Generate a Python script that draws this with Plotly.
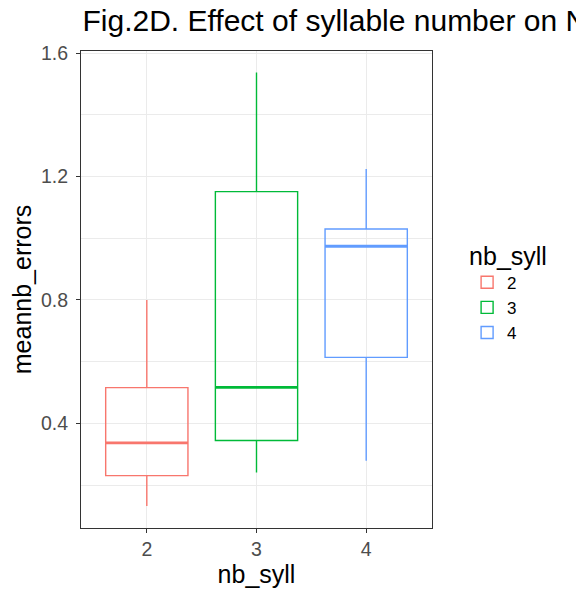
import plotly.graph_objects as go

# Data
nb_syll = [2, 3, 4]
labels = ["2", "3", "4"]
lower = [0.133, 0.241, 0.279]
q1 = [0.231, 0.345, 0.614]
median = [0.337, 0.517, 0.974]
q3 = [0.516, 1.151, 1.030]
upper = [0.800, 1.537, 1.224]
colors = ["#F8766D", "#00BA38", "#619CFF"]

y_major = [0.4, 0.8, 1.2, 1.6]
y_minor = [0.2, 0.6, 1.0, 1.4]

BOX_W = 0.75
FONT = "Liberation Sans, Arial, Helvetica, sans-serif"

fig = go.Figure()
for i in range(len(nb_syll)):
    fig.add_trace(go.Box(
        x=[nb_syll[i]],
        q1=[q1[i]], median=[median[i]], q3=[q3[i]],
        lowerfence=[lower[i]], upperfence=[upper[i]],
        name=labels[i],
        width=BOX_W,
        whiskerwidth=0,
        line=dict(color=colors[i], width=1.4),
        fillcolor="rgba(255,255,255,0)",
        boxpoints=False,
        hoverinfo="skip",
        legendgroup=labels[i],
    ))
for i in range(len(nb_syll)):
    fig.add_trace(go.Scatter(
        x=[nb_syll[i] - BOX_W / 2, nb_syll[i] + BOX_W / 2],
        y=[median[i], median[i]],
        mode="lines",
        line=dict(color=colors[i], width=2.8),
        showlegend=False,
        hoverinfo="skip",
        legendgroup=labels[i],
    ))

fig.update_layout(
    width=584, height=591,
    margin=dict(l=73, r=160, t=43, b=71, autoexpand=False),
    paper_bgcolor="white", plot_bgcolor="white",
    font=dict(family=FONT, color="black"),
    title=dict(
        text="Fig.2D. Effect of syllable number on N",
        font=dict(size=30, color="black", family=FONT),
        x=74.5 / 584, xref="container", xanchor="left",
        y=1 - 12 / 591, yref="container", yanchor="middle",
    ),
    showlegend=True,
    legend=dict(
        title=dict(text="nb_syll", font=dict(size=25, color="black")),
        font=dict(size=17, color="black"),
        x=1.1, xanchor="left", y=0.620, yanchor="top",
        tracegroupgap=0,
        bgcolor="rgba(0,0,0,0)",
    ),
    xaxis=dict(
        range=[1.4, 4.6],
        tickmode="array", tickvals=nb_syll, ticktext=labels,
        showgrid=True, gridcolor="#EBEBEB", gridwidth=1.1,
        zeroline=False,
        showline=True, mirror=True, linecolor="#333333", linewidth=1.1,
        ticks="outside", ticklen=4, tickwidth=1.1, tickcolor="#333333",
        tickfont=dict(size=19.5, color="#4D4D4D"),
        title=dict(text="nb_syll", font=dict(size=25, color="black"), standoff=4),
    ),
    yaxis=dict(
        range=[0.0614, 1.6065],
        tickmode="array", tickvals=y_major,
        ticktext=[f"{v:.1f}" for v in y_major],
        showgrid=True, gridcolor="#EBEBEB", gridwidth=1.1,
        minor=dict(tickmode="array", tickvals=y_minor, showgrid=True,
                   gridcolor="#EBEBEB", gridwidth=0.5, ticks=""),
        zeroline=False,
        showline=True, mirror=True, linecolor="#333333", linewidth=1.1,
        ticks="outside", ticklen=4, tickwidth=1.1, tickcolor="#333333",
        ticklabelstandoff=4,
        tickfont=dict(size=19.5, color="#4D4D4D"),
        title=dict(text="meannb_errors", font=dict(size=25, color="black"), standoff=10),
    ),
)

fig.write_html("out.html")
